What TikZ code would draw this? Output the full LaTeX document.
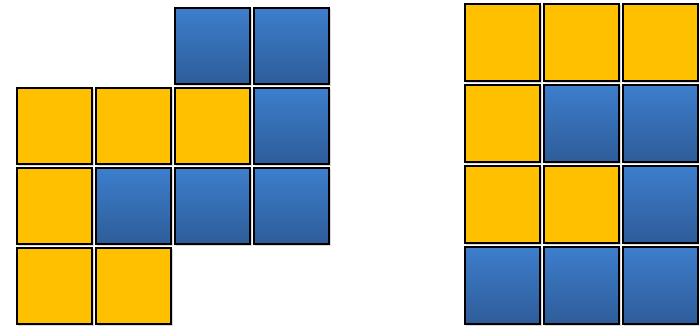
\documentclass[tikz,border=0pt]{standalone}
\usepackage{xcolor}
\usepackage{tikz}
\usetikzlibrary{
    positioning,
    shadows
}
\definecolor{TileYellow}{HTML}{FFC000}
\definecolor{TileBlueTop}{HTML}{3D7ECC}
\definecolor{TileBlueBot}{HTML}{2E5C99}
\tikzset{
    tile/.style={
        rectangle,
        draw=black,
        line width=1.7pt,
        anchor=north west,
        minimum width=75.5pt,
        minimum height=76.5pt,
        inner sep=0pt,
        drop shadow={shadow xshift=1.5pt,shadow yshift=-1.5pt,opacity=0.3},
    },
    yel/.style={
        tile,
        fill=TileYellow,
    },
    blu/.style={
        tile,
        top color=TileBlueTop,
        bottom color=TileBlueBot,
    },
}

\begin{document}
\begin{tikzpicture}[x=1pt,y=-1pt]
    \useasboundingbox (0,0) rectangle (699,330);

    % left shape
    \foreach \r/\c/\kind in {0/2/blu,0/3/blu,
                             1/0/yel,1/1/yel,1/2/yel,1/3/blu,
                             2/0/yel,2/1/blu,2/2/blu,2/3/blu,
                             3/0/yel,3/1/yel}
        \node[\kind] (left-\r-\c) at ({15.8+79*\c},{6.8+80*\r}) {};

    % right shape
    \foreach \r/\c/\kind in {0/0/yel,0/1/yel,0/2/yel,
                             1/0/yel,1/1/blu,1/2/blu,
                             2/0/yel,2/1/yel,2/2/blu,
                             3/0/blu,3/1/blu,3/2/blu}
        \node[\kind,minimum height=77.5pt] (right-\r-\c) at ({463.8+79*\c},{2.8+81*\r}) {};
\end{tikzpicture}
\end{document}
